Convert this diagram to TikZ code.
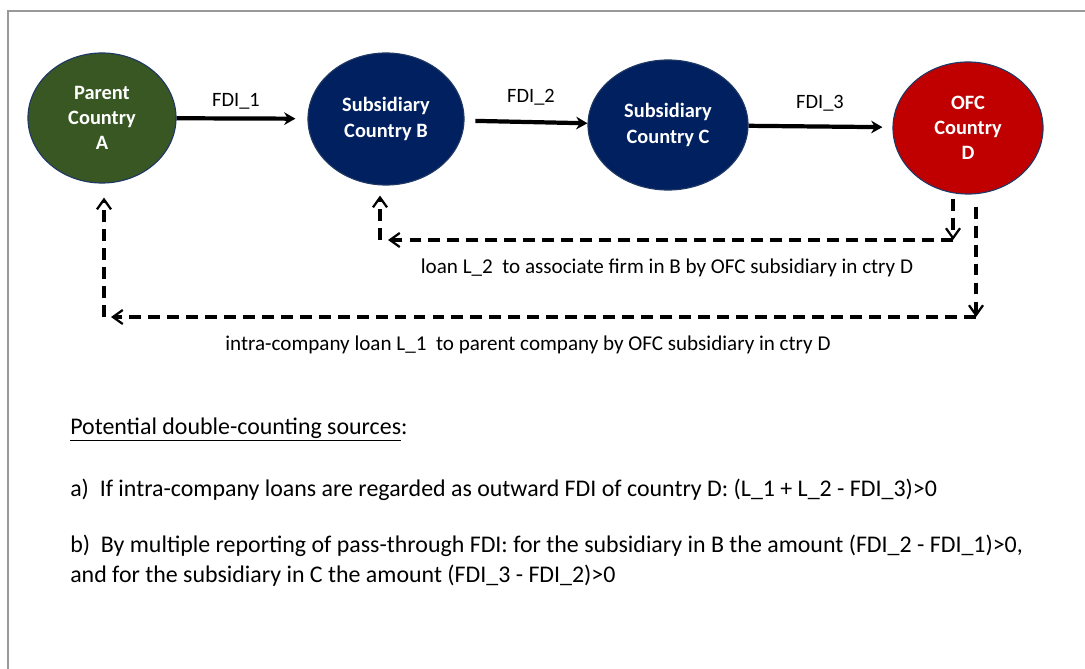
\documentclass[tikz,border=0pt]{standalone}
\usepackage{fontspec}
\setmainfont{Carlito}
\usepackage{tikz}
\usetikzlibrary{shapes.geometric}
\usetikzlibrary{arrows.meta}
\definecolor{parentgreen}{HTML}{385723}
\definecolor{subnavy}{HTML}{002060}
\definecolor{ofcred}{HTML}{C00000}
\definecolor{rimblue}{HTML}{1F3864}
\tikzset{
  country/.style={ellipse, draw=rimblue, line width=0.8pt, text=white,
    font=\fontsize{14.5}{18}\selectfont\bfseries, align=center, inner sep=0pt},
  fdi/.style={-{Stealth[length=8pt,width=9pt]}, line width=3pt},
  loan/.style={dash pattern=on 8.5pt off 5pt, line width=2.2pt,
    -{Straight Barb[length=7pt,width=10pt,line width=1.6pt]}},
  lbl/.style={font=\fontsize{14.5}{18}\selectfont},
  loanlbl/.style={font=\fontsize{15}{18}\selectfont},
  note/.style={font=\fontsize{17}{22}\selectfont, anchor=base west, inner sep=0pt},
}

\begin{document}
\begin{tikzpicture}[x=0.025cm, y=-0.025cm]
\useasboundingbox (0,0) rectangle (1085,669);
\draw[gray!80, line width=0.8pt] (1085,11) -- (8,11) -- (8,669);

% countries
\node[country, fill=parentgreen, minimum width=3.7cm, minimum height=3.25cm] (parentA) at (102,118) {Parent\\Country\\A};
\node[country, fill=subnavy, minimum width=3.9cm, minimum height=3.3cm] (subB) at (386,119) {Subsidiary\\Country B};
\node[country, fill=subnavy, minimum width=4cm, minimum height=3.25cm] (subC) at (668,125) {Subsidiary\\Country C};
\node[country, fill=ofcred, minimum width=3.75cm, minimum height=3.3cm] (ofcD) at (968,128) {OFC\\Country\\D};

% direct investment chain
\draw[fdi, shorten >=0.3cm] (parentA) -- (subB);
\draw[fdi, shorten <=0.27cm] (subB) -- (subC);
\draw[fdi, shorten >=0.25cm] (subC) -- (ofcD);
\node[lbl] (fdi1) at (236,101) {FDI\_1};
\node[lbl] (fdi2) at (531,97) {FDI\_2};
\node[lbl] (fdi3) at (820,103) {FDI\_3};

% loan L_2
\coordinate (l2d) at (953,240);
\coordinate (l2b) at (388,240);
\coordinate (l2up) at (380,240);
\draw[loan, shorten <=0.1cm] (ofcD.south -| l2d) -- (l2d);
\draw[loan] (l2d) -- (l2b);
\draw[loan, shorten >=0.25cm] (l2up) -- (subB.south -| l2up);
\node[loanlbl] (l2txt) at (667,268) {loan L\_2~ to associate firm in B by OFC subsidiary in ctry D};

% loan L_1
\coordinate (l1d) at (976,317);
\coordinate (l1a) at (111,317);
\coordinate (l1up) at (104,317);
\draw[loan, shorten <=0.3cm] (ofcD.south -| l1d) -- (l1d);
\draw[loan] (l1d) -- (l1a);
\draw[loan, shorten >=0.35cm] (l1up) -- (parentA.south -| l1up);
\node[loanlbl] (l1txt) at (528,345) {intra-company loan L\_1~ to parent company by OFC subsidiary in ctry D};

% double counting notes
\node[note] (head) at (70,434) {\underline{Potential double-counting sources}:};
\node[note] (notea) at (70,496) {a)~ If intra-company loans are regarded as outward FDI of country D: (L\_1 + L\_2 - FDI\_3)>0};
\node[note] (noteb) at (70,552) {b)~ By multiple reporting of pass-through FDI: for the subsidiary in B the amount (FDI\_2 - FDI\_1)>0,};
\node[note] (notebb) at (70,582) {and for the subsidiary in C the amount (FDI\_3 - FDI\_2)>0};
\end{tikzpicture}
\end{document}
